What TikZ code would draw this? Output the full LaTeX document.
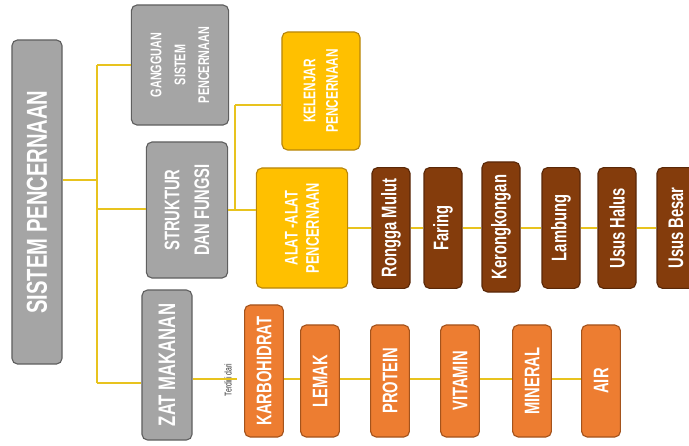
\documentclass[tikz,border=0pt]{standalone}
\usepackage{fontspec}
\setsansfont{Liberation Sans}[FakeStretch=0.7]
\definecolor{boxgrey}{HTML}{A5A5A5}
\definecolor{greyline}{HTML}{5F5F5F}
\definecolor{boxgold}{HTML}{FFC000}
\definecolor{goldline}{HTML}{B8860B}
\definecolor{boxbrown}{HTML}{843C0C}
\definecolor{brownline}{HTML}{5A2808}
\definecolor{boxorange}{HTML}{ED7D31}
\definecolor{orangeline}{HTML}{A4531C}
\definecolor{linkyellow}{HTML}{E8C31E}
\tikzset{
  box/.style={rounded corners=4pt, line width=0.8pt, rotate=90, align=center,
    text=white, inner sep=1pt},
  greybox/.style={box, fill=boxgrey, draw=greyline},
  goldbox/.style={box, fill=boxgold, draw=goldline},
  organ/.style={box, fill=boxbrown, draw=brownline, minimum width=3.02cm,
    minimum height=0.95cm, font=\sffamily\bfseries\fontsize{15}{16}\selectfont},
  nutrient/.style={box, fill=boxorange, draw=orangeline, minimum width=2.8cm,
    minimum height=0.97cm, font=\sffamily\bfseries\fontsize{15}{16}\selectfont},
  link/.style={draw=linkyellow, line width=1.5pt}
}
\begin{document}
\begin{tikzpicture}[x=0.025cm, y=-0.025cm]
    \useasboundingbox (0,0) rectangle (689,446);

    %Nodes
    \node[greybox, minimum width=8.1cm, minimum height=1.25cm,
      font=\sffamily\bfseries\fontsize{20.5}{22}\selectfont] at (37,202) (sistem) {SISTEM PENCERNAAN};
    \node[greybox, minimum width=3cm, minimum height=2.43cm,
      font=\sffamily\bfseries\fontsize{11}{17}\selectfont] at (180,65) (gangguan) {GANGGUAN\\SISTEM\\PENCERNAAN};
    \node[greybox, minimum width=3.4cm, minimum height=2.03cm,
      font=\sffamily\bfseries\fontsize{15}{21}\selectfont] at (187,210) (struktur) {STRUKTUR\\DAN FUNGSI};
    \node[greybox, minimum width=3.75cm, minimum height=1.25cm,
      font=\sffamily\bfseries\fontsize{17}{18}\selectfont] at (167,365) (zat) {ZAT MAKANAN};

    \node[goldbox, minimum width=2.95cm, minimum height=1.95cm,
      font=\sffamily\bfseries\fontsize{12}{16}\selectfont] at (321,91) (kelenjar) {KELENJAR\\PENCERNAAN};
    \node[goldbox, minimum width=3cm, minimum height=2.28cm,
      font=\sffamily\bfseries\fontsize{13}{15}\selectfont] at (302,228) (alat) {ALAT -ALAT\\PENCERNAAN};

    \node[organ] at (391,228) (mulut) {Rongga Mulut};
    \node[organ] at (443,228) (faring) {Faring};
    \node[organ, minimum width=3.25cm] at (501,227) (kerongkongan) {Kerongkongan};
    \node[organ] at (561,228) (lambung) {Lambung};
    \node[organ] at (617,228) (halus) {Usus Halus};
    \node[organ] at (676,228) (besar) {Usus Besar};

    \node[rotate=90, font=\sffamily\fontsize{7}{8}\selectfont, text=black!80] at (228,380) (terdiri) {Terdiri dari};

    \node[nutrient, minimum width=3.3cm] at (264,371) (karbo) {KARBOHIDRAT};
    \node[nutrient] at (320,381) (lemak) {LEMAK};
    \node[nutrient] at (390,381) (protein) {PROTEIN};
    \node[nutrient] at (460,381) (vitamin) {VITAMIN};
    \node[nutrient] at (532,381) (mineral) {MINERAL};
    \node[nutrient] at (601,381) (air) {AIR};

    \coordinate (trunk) at (97,180);
    \coordinate (trunktop) at (97,65);
    \coordinate (trunkmid) at (97,209);
    \coordinate (trunkend) at (97,383);
    \coordinate (branch) at (235,210);
    \coordinate (branchtop) at (235,105);
    \coordinate (organrow) at (0,228);
    \coordinate (foodrow) at (0,379);

    %Lines
    \draw[link] (sistem.south |- trunk) -- (trunk);
    \draw[link] (trunktop) -- (trunkend);
    \draw[link] (trunktop) -- (gangguan.north |- trunktop);
    \draw[link] (trunkmid) -- (struktur.north |- trunkmid);
    \draw[link] (trunkend) -- (zat.north |- trunkend);

    \draw[link] (struktur.south |- branch) -- (branch);
    \draw[link] (branchtop) -- (branch);
    \draw[link] (branchtop) -- (kelenjar.north |- branchtop);
    \draw[link] (branch) -- (alat.north |- branch);

    \foreach \a/\b in {alat/mulut, mulut/faring, faring/kerongkongan,
        kerongkongan/lambung, lambung/halus, halus/besar}
      \draw[link, line width=1pt] (\a.south |- organrow) -- (\b.north |- organrow);

    \draw[link, line width=1pt] (zat.south |- foodrow) -- (terdiri.south |- foodrow);
    \foreach \a/\b in {karbo/lemak, lemak/protein, protein/vitamin,
        vitamin/mineral, mineral/air}
      \draw[link, line width=1pt] (\a.south |- foodrow) -- (\b.north |- foodrow);
\end{tikzpicture}
\end{document}
